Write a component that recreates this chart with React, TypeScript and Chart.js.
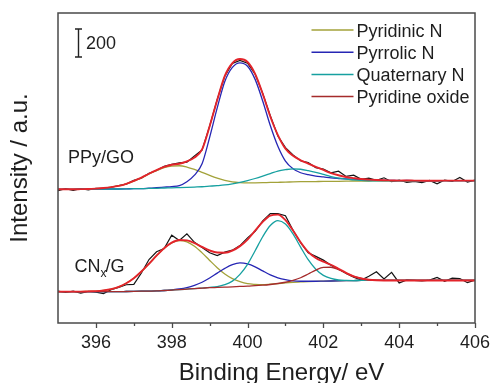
import React, { useEffect, useRef } from 'react';
import { Chart, registerables } from 'chart.js';

Chart.register(...registerables);

// Binding energy grid (eV)
const energies = [
  395.0, 395.2, 395.4, 395.6, 395.8, 396.0, 396.2, 396.4, 396.6, 396.8,
  397.0, 397.2, 397.4, 397.6, 397.8, 398.0, 398.2, 398.4, 398.6, 398.8,
  399.0, 399.2, 399.4, 399.6, 399.8, 400.0, 400.2, 400.4, 400.6, 400.8,
  401.0, 401.2, 401.4, 401.6, 401.8, 402.0, 402.2, 402.4, 402.6, 402.8,
  403.0, 403.2, 403.4, 403.6, 403.8, 404.0, 404.2, 404.4, 404.6, 404.8,
  405.0, 405.2, 405.4, 405.6, 405.8, 406.0,
];

// ---- PPy/GO (upper spectrum), counts ----
const ppyBaseline = [
  955, 955, 955, 956, 956, 956, 957, 957, 957, 958,
  959, 959, 961, 962, 964, 965, 967, 969, 971, 973,
  976, 979, 982, 986, 990, 994, 997, 1000, 1003, 1005,
  1006, 1008, 1009, 1009, 1010, 1011, 1011, 1012, 1013, 1014,
  1014, 1014, 1015, 1015, 1015, 1015, 1016, 1016, 1016, 1016,
  1016, 1017, 1017, 1017, 1017, 1017,
];
const ppyPyridinic = [
  0, 0, 0, 0, 1, 4, 7, 13, 22, 36,
  55, 78, 103, 126, 145, 156, 156, 145, 126, 103,
  78, 55, 36, 22, 13, 7, 4, 2, 1, 0,
  0, 0, 0, 0, 0, 0, 0, 0, 0, 0,
  0, 0, 0, 0, 0, 0, 0, 0, 0, 0,
  0, 0, 0, 0, 0, 0,
];
const ppyPyrrolic = [
  0, 0, 0, 0, 0, 0, 0, 0, 0, 0,
  1, 1, 2, 4, 6, 9, 14, 40, 85, 164,
  350, 557, 743, 840, 868, 840, 743, 586, 407, 257,
  150, 93, 64, 50, 39, 32, 25, 20, 16, 13,
  10, 8, 6, 4, 3, 2, 2, 1, 0, 0,
  0, 0, 0, 0, 0, 0,
];
const ppyQuaternary = [
  0, 0, 0, 0, 0, 0, 0, 0, 0, 0,
  0, 0, 0, 0, 0, 0, 0, 0, 0, 0,
  1, 2, 4, 8, 14, 23, 35, 49, 64, 80,
  89, 93, 89, 79, 66, 50, 35, 23, 14, 8,
  4, 2, 0, 0, 0, 0, 0, 0, 0, 0,
  0, 0, 0, 0, 0, 0,
];
const ppyMeasured = [
  -10, 5, -8, 4, -6, 6, 3, 12, 25, 34,
  60, 76, 108, 127, 155, 168, 176, 180, 222, 262,
  430, 618, 780, 868, 885, 862, 780, 640, 478, 330,
  246, 192, 150, 136, 100, 88, 62, 72, 34, 42,
  12, 20, 4, 22, -6, 6, -12, -4, -14, 2,
  -22, 4, -6, 22, -10, 4,
];

// ---- CNx/G (lower spectrum), counts ----
const cnxBaseline = [
  224, 224, 224, 224, 224, 224, 224, 224, 224, 225,
  226, 227, 228, 229, 232, 235, 238, 242, 246, 249,
  252, 254, 256, 258, 261, 263, 267, 270, 275, 281,
  286, 290, 293, 296, 298, 299, 300, 301, 302, 303,
  304, 304, 304, 304, 304, 304, 304, 304, 304, 304,
  304, 304, 304, 304, 304, 304,
];
const cnxPyridinic = [
  0, 0, 0, 0, 2, 4, 9, 18, 34, 59,
  94, 141, 195, 252, 302, 337, 350, 337, 302, 252,
  195, 141, 94, 59, 34, 18, 9, 4, 2, 0,
  0, 0, 0, 0, 0, 0, 0, 0, 0, 0,
  0, 0, 0, 0, 0, 0, 0, 0, 0, 0,
  0, 0, 0, 0, 0, 0,
];
const cnxPyrrolic = [
  0, 0, 0, 0, 0, 0, 0, 0, 0, 0,
  0, 0, 0, 0, 0, 2, 5, 11, 23, 42,
  69, 102, 134, 159, 168, 159, 134, 102, 69, 42,
  23, 11, 5, 2, 0, 0, 0, 0, 0, 0,
  0, 0, 0, 0, 0, 0, 0, 0, 0, 0,
  0, 0, 0, 0, 0, 0,
];
const cnxQuaternary = [
  0, 0, 0, 0, 0, 0, 0, 0, 0, 0,
  0, 0, 0, 0, 0, 0, 0, 0, 0, 0,
  2, 6, 18, 41, 86, 156, 249, 346, 421, 450,
  421, 346, 249, 156, 86, 41, 18, 6, 2, 0,
  0, 0, 0, 0, 0, 0, 0, 0, 0, 0,
  0, 0, 0, 0, 0, 0,
];
const cnxOxide = [
  0, 0, 0, 0, 0, 0, 0, 0, 0, 0,
  0, 0, 0, 0, 0, 0, 0, 0, 0, 0,
  0, 0, 0, 0, 0, 0, 0, 0, 0, 1,
  5, 14, 30, 54, 80, 98, 98, 80, 54, 30,
  14, 5, 1, 0, 0, 0, 0, 0, 0, 0,
  0, 0, 0, 0, 0, 0,
];
const cnxMeasured = [
  4, -6, 3, -10, 2, -4, -14, 14, 30, 48,
  50, 130, 225, 280, 300, 392, 352, 395, 330, 290,
  250, 228, 250, 262, 292, 345, 388, 460, 506, 500,
  480, 372, 280, 205, 178, 150, 112, 84, 52, 24,
  2, 30, 62, 10, 58, -18, 4, 0, -4, 2,
  22, -6, 16, 14, -16, 2,
];

const xTickValues = [395, 396, 397, 398, 399, 400, 401, 402, 403, 404, 405, 406];
const legendLabels = ['Pyridinic N', 'Pyrrolic N', 'Quaternary N', 'Pyridine oxide'];
const scaleBarCounts = [1900, 2100];
const scaleBarLabel = '200';
const sampleLabels = ['PPy/GO', 'CN', 'x', '/G'];

const COLORS = {
  pyridinic: '#a3a23a',
  pyrrolic: '#2626b4',
  quaternary: '#16a0a0',
  oxide: '#a52b2b',
  envelope: '#e3242b',
  measured: '#141414',
  axis: '#4a4a4a',
  text: '#1e1e1e',
};
const FONT = '"Liberation Sans", Arial, Helvetica, sans-serif';

const withBase = (base: number[], parts: number[][]) =>
  energies.map((e, i) => ({ x: e, y: base[i] + parts.reduce((s, p) => s + p[i], 0) }));

const decorPlugin = {
  id: 'decor',
  beforeDraw(chart: any) {
    const { ctx, width, height } = chart;
    ctx.save();
    ctx.fillStyle = '#ffffff';
    ctx.fillRect(0, 0, width, height);
    ctx.restore();
  },
  afterDraw(chart: any) {
    const { ctx, chartArea: a, scales } = chart;
    const xs = scales.x;
    const ys = scales.y;
    ctx.save();
    // frame
    ctx.strokeStyle = COLORS.axis;
    ctx.lineWidth = 1.5;
    ctx.strokeRect(a.left, a.top, a.right - a.left, a.bottom - a.top);
    // ticks (major at even, minor at odd)
    ctx.lineWidth = 1.3;
    for (const v of xTickValues) {
      if (v === 395) continue;
      const x = Math.round(xs.getPixelForValue(v)) + 0.5;
      const len = v % 2 === 0 ? 5 : 3;
      ctx.beginPath();
      ctx.moveTo(x, a.bottom);
      ctx.lineTo(x, a.bottom + len);
      ctx.stroke();
    }
    // scale bar
    const bx = Math.round(xs.getPixelForValue(395.54)) + 0.5;
    const by0 = ys.getPixelForValue(scaleBarCounts[0]);
    const by1 = ys.getPixelForValue(scaleBarCounts[1]);
    ctx.strokeStyle = '#222';
    ctx.lineWidth = 1.4;
    ctx.beginPath();
    ctx.moveTo(bx, by0);
    ctx.lineTo(bx, by1);
    ctx.moveTo(bx - 3.5, by0);
    ctx.lineTo(bx + 3.5, by0);
    ctx.moveTo(bx - 3.5, by1);
    ctx.lineTo(bx + 3.5, by1);
    ctx.stroke();
    ctx.fillStyle = COLORS.text;
    ctx.font = `18px ${FONT}`;
    ctx.textAlign = 'left';
    ctx.textBaseline = 'alphabetic';
    ctx.fillText(scaleBarLabel, bx + 7.5, (by0 + by1) / 2 + 6);

    // sample labels
    ctx.fillText(sampleLabels[0], 68, 163);
    ctx.fillText(sampleLabels[1], 74.5, 271.5);
    const cnW = ctx.measureText(sampleLabels[1]).width;
    ctx.font = `12px ${FONT}`;
    ctx.fillText(sampleLabels[2], 74.5 + cnW, 277);
    const xW = ctx.measureText(sampleLabels[2]).width;
    ctx.font = `18px ${FONT}`;
    ctx.fillText(sampleLabels[3], 74.5 + cnW + xW - 1, 271.5);

    // legend
    const legColors = [COLORS.pyridinic, COLORS.pyrrolic, COLORS.quaternary, COLORS.oxide];
    const rows = [30, 52.2, 74.4, 96.6];
    legendLabels.forEach((lab, i) => {
      ctx.strokeStyle = legColors[i];
      ctx.lineWidth = 1.5;
      ctx.beginPath();
      ctx.moveTo(311.5, rows[i]);
      ctx.lineTo(353.5, rows[i]);
      ctx.stroke();
      ctx.fillStyle = COLORS.text;
      ctx.font = `18px ${FONT}`;
      ctx.fillText(lab, 356.5, rows[i] + 6.5);
    });

    // axis titles
    ctx.font = `24px ${FONT}`;
    ctx.textAlign = 'center';
    ctx.fillText('Binding Energy/ eV', 281.5, 380);
    ctx.save();
    ctx.translate(27, 168);
    ctx.rotate(-Math.PI / 2);
    ctx.fillText('Intensity / a.u.', 0, 0);
    ctx.restore();
    ctx.restore();
  },
};

export default function App() {
  const canvasRef = useRef<HTMLCanvasElement | null>(null);

  useEffect(() => {
    const canvas = canvasRef.current;
    if (!canvas) return;

    const fit = (label: string, data: any[], color: string, width: number) => ({
      label,
      data,
      borderColor: color,
      backgroundColor: color,
      borderWidth: width,
      pointRadius: 0,
      fill: false,
      cubicInterpolationMode: 'monotone' as const,
    });
    const raw = (label: string, data: any[]) => ({
      label,
      data,
      borderColor: COLORS.measured,
      backgroundColor: COLORS.measured,
      borderWidth: 1.2,
      pointRadius: 0,
      fill: false,
      tension: 0,
    });

    const datasets = [
      fit('PPy/GO envelope', withBase(ppyBaseline, [ppyPyridinic, ppyPyrrolic, ppyQuaternary]), COLORS.envelope, 1.9),
      fit('CNx/G envelope', withBase(cnxBaseline, [cnxPyridinic, cnxPyrrolic, cnxQuaternary, cnxOxide]), COLORS.envelope, 1.9),
      fit('CNx/G Pyridine oxide', withBase(cnxBaseline, [cnxOxide]), COLORS.oxide, 1.3),
      fit('PPy/GO Quaternary N', withBase(ppyBaseline, [ppyQuaternary]), COLORS.quaternary, 1.3),
      fit('CNx/G Quaternary N', withBase(cnxBaseline, [cnxQuaternary]), COLORS.quaternary, 1.3),
      fit('PPy/GO Pyrrolic N', withBase(ppyBaseline, [ppyPyrrolic]), COLORS.pyrrolic, 1.3),
      fit('CNx/G Pyrrolic N', withBase(cnxBaseline, [cnxPyrrolic]), COLORS.pyrrolic, 1.3),
      fit('PPy/GO Pyridinic N', withBase(ppyBaseline, [ppyPyridinic]), COLORS.pyridinic, 1.3),
      fit('CNx/G Pyridinic N', withBase(cnxBaseline, [cnxPyridinic]), COLORS.pyridinic, 1.3),
      raw('PPy/GO measured', withBase(ppyBaseline, [ppyMeasured])),
      raw('CNx/G measured', withBase(cnxBaseline, [cnxMeasured])),
    ];

    const chart = new Chart(canvas, {
      type: 'line',
      data: { datasets },
      options: {
        animation: false,
        responsive: false,
        maintainAspectRatio: false,
        devicePixelRatio: 1,
        parsing: false as any,
        layout: { padding: { left: 58, top: 13, right: 16, bottom: 0 } },
        plugins: { legend: { display: false }, tooltip: { enabled: false } },
        scales: {
          x: {
            type: 'linear',
            min: 395,
            max: 406,
            afterBuildTicks: (s: any) => {
              s.ticks = xTickValues.map((v) => ({ value: v }));
            },
            afterFit: (s: any) => {
              s.height = 60;
              s.paddingLeft = 0;
              s.paddingRight = 0;
            },
            ticks: {
              autoSkip: false,
              maxRotation: 0,
              padding: 9,
              color: COLORS.text,
              font: { family: FONT, size: 18 },
              callback: (v: any) => (Number(v) % 2 === 0 ? String(v) : ''),
            },
            grid: { display: false, drawTicks: false },
            border: { display: false },
          },
          y: { type: 'linear', min: 0, max: 2214, display: false },
        },
      },
      plugins: [decorPlugin],
    });
    return () => chart.destroy();
  }, []);

  return (
    <div style={{ position: 'fixed', left: 0, top: 0, width: 491, height: 383, background: '#fff' }}>
      <canvas ref={canvasRef} width={491} height={383} style={{ display: 'block', width: 491, height: 383 }} />
    </div>
  );
}
